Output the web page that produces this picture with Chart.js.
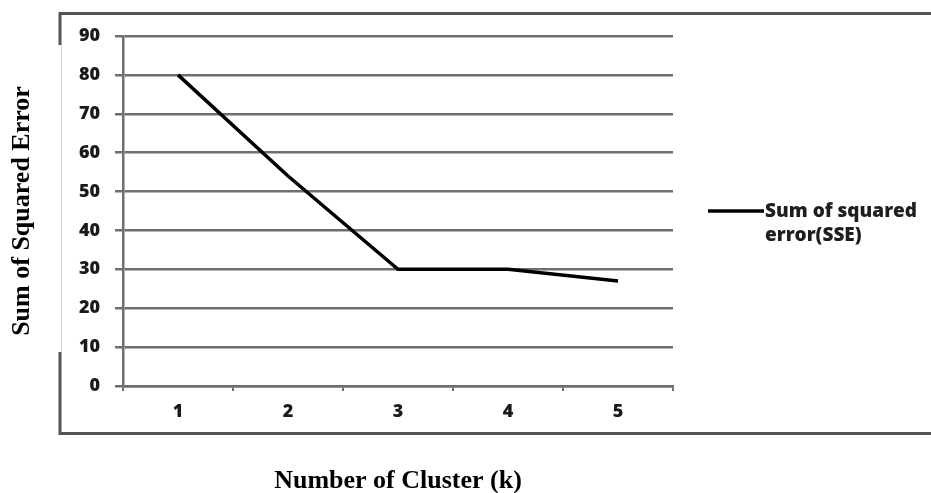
<!DOCTYPE html>
<html>
<head>
<meta charset="utf-8">
<script src="https://cdn.jsdelivr.net/npm/chart.js@4/dist/chart.umd.min.js"></script>
<style>
  body { margin: 0; background: #fff; }
  canvas { display: block; }
</style>
</head>
<body>
<canvas id="sseChart" width="931" height="493"></canvas>
<script>
const clusters = ["1", "2", "3", "4", "5"];
const sseValues = [80, 54, 30, 30, 27];
const seriesLabel = "Sum of squared error(SSE)";
const yMin = 0;
const yMax = 90;
const yStep = 10;

const gridColor = "#6f6f6f";
const tickFont = { family: "'Open Sans'", size: 18, weight: "800" };
const titleFont = { family: "'Liberation Serif'", size: 26, weight: "bold", lineHeight: 0.9 };

// outer frame + white patch behind the y title
const framePlugin = {
  id: "frame",
  beforeDraw(chart) {
    const ctx = chart.ctx;
    ctx.save();
    ctx.fillStyle = "#fff";
    ctx.fillRect(0, 0, chart.width, chart.height);
    ctx.strokeStyle = "#555";
    ctx.lineWidth = 3;
    ctx.strokeRect(60, 13.5, 900, 420);
    ctx.fillStyle = "#fff";
    ctx.fillRect(0, 45, 61.5, 307);
    ctx.restore();
  }
};

// legend with wrapped label, to the right of the plot
const sideLegend = {
  id: "sideLegend",
  afterDraw(chart) {
    const ctx = chart.ctx;
    const ds = chart.data.datasets[0];
    const x = 708, y = 211;
    ctx.save();
    ctx.strokeStyle = ds.borderColor;
    ctx.lineWidth = ds.borderWidth;
    ctx.beginPath();
    ctx.moveTo(x, y);
    ctx.lineTo(x + 56, y);
    ctx.stroke();

    ctx.font = "800 19px 'Open Sans'";
    ctx.fillStyle = "#1e1e1e";
    ctx.textBaseline = "middle";
    const words = ds.label.split(" ");
    const lines = [];
    let cur = "";
    words.forEach((w) => {
      const test = cur ? cur + " " + w : w;
      if (ctx.measureText(test).width > 165 && cur) {
        lines.push(cur);
        cur = w;
      } else {
        cur = test;
      }
    });
    lines.push(cur);
    lines.forEach((line, i) => ctx.fillText(line, x + 57, y + 1 + i * 24));
    ctx.restore();
  }
};

const ctx = document.getElementById("sseChart").getContext("2d");
new Chart(ctx, {
  type: "line",
  data: {
    labels: clusters,
    datasets: [{
      label: seriesLabel,
      data: sseValues,
      borderColor: "#000",
      borderWidth: 3.5,
      pointRadius: 0,
      tension: 0,
      fill: false
    }]
  },
  options: {
    responsive: false,
    animation: false,
    layout: { padding: { top: 36, right: 258, left: 0, bottom: 0 } },
    plugins: {
      legend: { display: false },
      tooltip: { enabled: false }
    },
    scales: {
      x: {
        offset: true,
        grid: {
          offset: true,
          drawOnChartArea: false,
          drawTicks: true,
          tickLength: 5,
          color: gridColor,
          lineWidth: 2
        },
        border: { display: true, color: gridColor, width: 2.5 },
        ticks: { color: "#1a1a1a", font: tickFont, padding: 10 },
        title: {
          display: true,
          text: "Number of Cluster (k)",
          color: "#000",
          font: titleFont,
          padding: { top: 0, bottom: 0 }
        },
        afterFit(scale) { scale.height = 107; }
      },
      y: {
        min: yMin,
        max: yMax,
        ticks: { stepSize: yStep, color: "#1a1a1a", font: tickFont, padding: 15 },
        grid: { color: gridColor, lineWidth: 2.5, tickLength: 8 },
        border: { display: true, color: gridColor, width: 2.5 },
        title: {
          display: true,
          text: "Sum of Squared Error",
          color: "#000",
          font: titleFont,
          padding: { top: 11, bottom: 0 }
        },
        afterFit(scale) { scale.width = 123; }
      }
    }
  },
  plugins: [framePlugin, sideLegend]
});
</script>
</body>
</html>
